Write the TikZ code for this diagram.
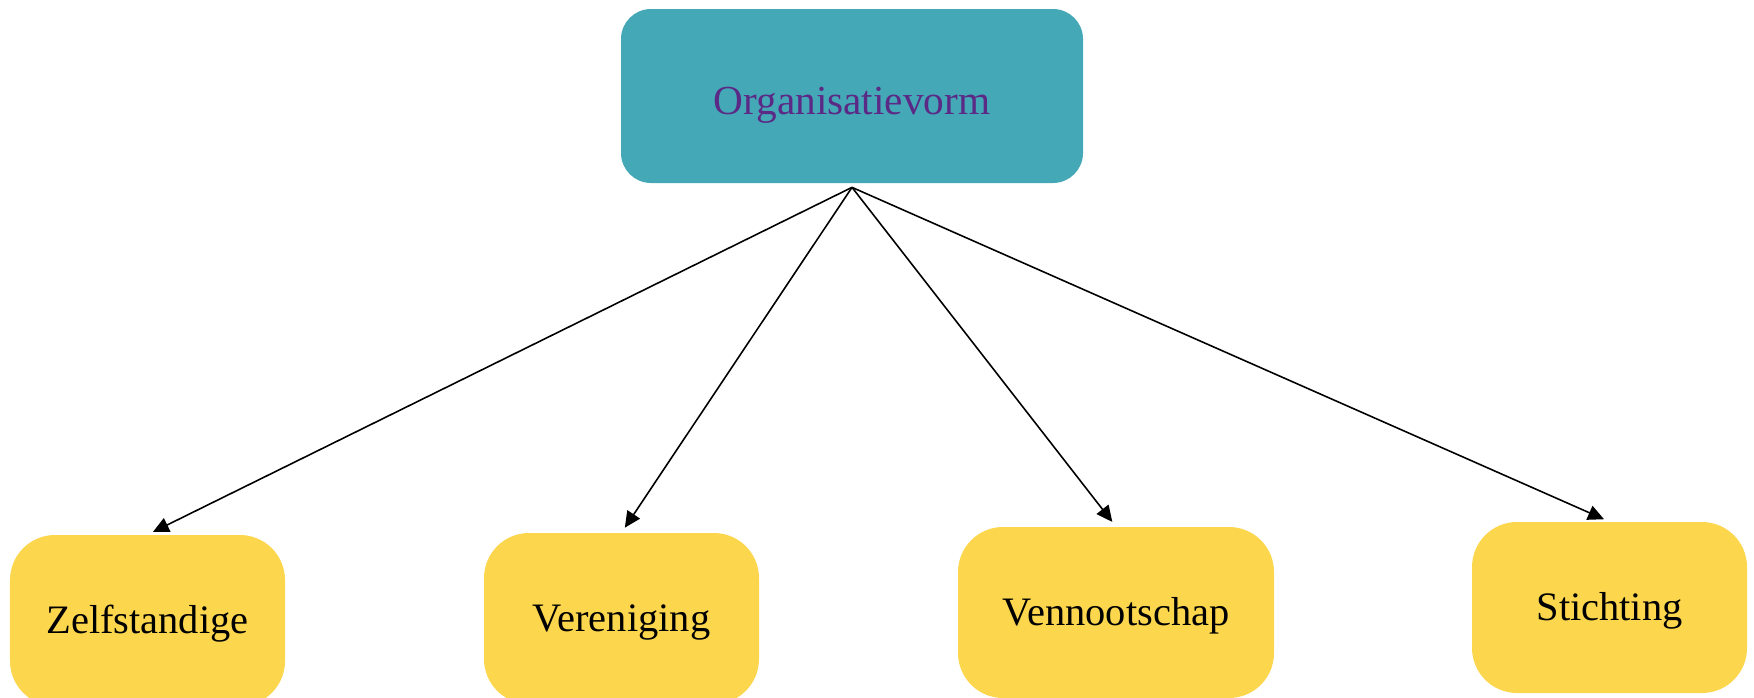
\documentclass[tikz,border=0pt]{standalone}
\usepackage{fontspec}
\setmainfont{Liberation Serif}
\usepackage{xcolor}
\usepackage{tikz}
\usetikzlibrary{positioning,arrows.meta}

\definecolor{teal}{HTML}{45A8B6}
\definecolor{geel}{HTML}{FCD74E}
\definecolor{paars}{HTML}{5A2A86}

\begin{document}
\begin{tikzpicture}[
    topbox/.style={fill=teal, rounded corners=0.6cm, minimum width=9.24cm, minimum height=3.48cm,
        text=paars, font=\fontsize{23.5}{27}\selectfont, text height=0.9cm, text depth=0.18cm},
    formbox/.style={fill=geel, rounded corners=0.9cm, minimum width=5.5cm, minimum height=3.42cm,
        font=\fontsize{23}{27}\selectfont, text height=0.7cm, text depth=0.18cm},
    link/.style={-{Triangle[length=0.32cm,width=0.3cm]}, line width=0.9pt, shorten >=0.12cm}
]
    \useasboundingbox (0,0) rectangle (35.08,-13.94);

    % Organisatievorm
    \node[topbox] (org) at (17.04,-1.92) {Organisatievorm};
    \coordinate (hub) at ([yshift=-0.08cm]org.south);

    % Vormen
    \node[formbox] (zelf) at (2.95,-12.41) {Zelfstandige};
    \node[formbox] (ver) at (12.43,-12.37) {Vereniging};
    \node[formbox, minimum width=6.32cm] (venn) at (22.32,-12.25) {Vennootschap};
    \node[formbox] (stich) at (32.19,-12.15) {Stichting};

    % Pijlen
    \draw[link] (hub) -- (zelf.north);
    \draw[link] (hub) -- (ver.north);
    \draw[link] (hub) -- (venn.north);
    \draw[link] (hub) -- (stich.north);
\end{tikzpicture}
\end{document}
